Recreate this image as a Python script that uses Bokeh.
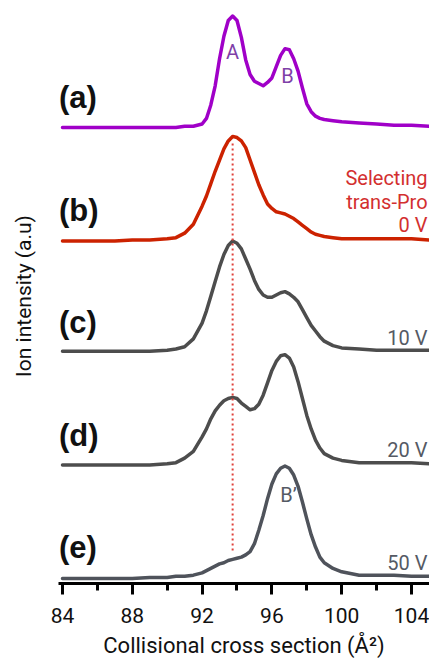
from bokeh.plotting import figure
from bokeh.models import Range1d, SingleIntervalTicker, FixedTicker, Label, LinearAxis
from bokeh.embed import file_html
from bokeh.resources import INLINE

# Collisional cross section grid (Å^2)
ccs = [84, 85, 86, 87, 88, 89, 90, 90.5, 91, 91.5,
       92, 92.25, 92.5, 92.75, 93, 93.25, 93.5, 93.75, 94, 94.25, 94.5, 94.75,
       95, 95.25, 95.5, 95.75, 96, 96.25, 96.5, 96.75, 97, 97.25, 97.5, 97.75,
       98, 98.25, 98.5, 98.75, 99,
       99.5, 100, 101, 102, 103, 104, 105]

# Normalised ion intensities (a.u.)
trace_a = [0.01, 0.01, 0.01, 0.01, 0.01, 0.01, 0.01, 0.01, 0.02, 0.02,
           0.04, 0.09, 0.21, 0.38, 0.62, 0.82, 0.96, 1.00, 0.96, 0.81, 0.61, 0.48,
           0.42, 0.40, 0.38, 0.41, 0.45, 0.55, 0.65, 0.71, 0.70, 0.62, 0.51, 0.36,
           0.22, 0.15, 0.11, 0.09, 0.08,
           0.07, 0.06, 0.05, 0.04, 0.03, 0.03, 0.02]
trace_b = [0.00, 0.00, 0.00, 0.00, 0.01, 0.01, 0.02, 0.03, 0.07, 0.15,
           0.31, 0.40, 0.51, 0.62, 0.72, 0.82, 0.89, 0.93, 0.92, 0.89, 0.83, 0.72,
           0.61, 0.50, 0.41, 0.33, 0.29, 0.26, 0.25, 0.24, 0.22, 0.20, 0.17, 0.14,
           0.11, 0.08, 0.06, 0.05, 0.04,
           0.03, 0.02, 0.02, 0.02, 0.02, 0.02, 0.01]
trace_c = [0.02, 0.02, 0.02, 0.02, 0.02, 0.02, 0.03, 0.04, 0.06, 0.13,
           0.27, 0.38, 0.51, 0.64, 0.77, 0.88, 0.96, 1.00, 0.98, 0.93, 0.84, 0.75,
           0.65, 0.57, 0.52, 0.50, 0.50, 0.52, 0.54, 0.55, 0.53, 0.50, 0.46, 0.39,
           0.32, 0.25, 0.20, 0.15, 0.11,
           0.07, 0.05, 0.04, 0.03, 0.03, 0.03, 0.03]
trace_d = [0.01, 0.01, 0.01, 0.01, 0.01, 0.01, 0.02, 0.03, 0.07, 0.13,
           0.26, 0.33, 0.42, 0.49, 0.54, 0.58, 0.60, 0.61, 0.60, 0.56, 0.53, 0.50,
           0.51, 0.55, 0.63, 0.74, 0.85, 0.93, 0.98, 0.99, 0.96, 0.88, 0.75, 0.60,
           0.45, 0.33, 0.23, 0.16, 0.11,
           0.07, 0.05, 0.03, 0.03, 0.03, 0.03, 0.02]
trace_e = [0.00, 0.00, 0.00, 0.00, 0.00, 0.01, 0.01, 0.02, 0.02, 0.03,
           0.05, 0.07, 0.09, 0.11, 0.13, 0.14, 0.16, 0.17, 0.18, 0.19, 0.21, 0.24,
           0.31, 0.43, 0.56, 0.71, 0.84, 0.93, 0.98, 1.00, 0.98, 0.92, 0.82, 0.68,
           0.53, 0.39, 0.28, 0.19, 0.14,
           0.09, 0.06, 0.03, 0.03, 0.03, 0.02, 0.02]

traces = [trace_a, trace_b, trace_c, trace_d, trace_e]
offsets = [4, 3, 2, 1, 0]
panel_labels = ["(a)", "(b)", "(c)", "(d)", "(e)"]
voltage_labels = ["", "0 V", "10 V", "20 V", "50 V"]
trace_colors = ["#a000c8", "#cc2200", "#4d4d4d", "#4d4d4d", "#4f535b"]
volt_colors = ["#555a64", "#d32f2f", "#555a64", "#555a64", "#555a64"]
x_ticks_interval = 4

FONT = "Roboto"

p = figure(width=429, height=662, output_backend="svg", toolbar_location=None,
           x_range=Range1d(83.771, 105.032), y_range=Range1d(-0.044, 5.067),
           y_axis_location=None, min_border_left=58, min_border_right=0,
           min_border_top=8, min_border_bottom=79)
p.outline_line_color = None
p.grid.visible = False

ax = p.xaxis[0]
ax.ticker = SingleIntervalTicker(interval=x_ticks_interval, num_minor_ticks=2)
ax.axis_label = "Collisional cross section (Å²)"
ax.axis_label_text_font = FONT
ax.axis_label_text_font_size = "22px"
ax.axis_label_text_font_style = "normal"
ax.axis_label_text_color = "#111111"
ax.axis_label_standoff = 7
ax.major_label_text_font = FONT
ax.major_label_text_font_size = "21px"
ax.major_label_text_color = "#111111"
ax.major_label_standoff = 13
ax.axis_line_width = 3
ax.axis_line_color = "black"
ax.major_tick_line_width = 3
ax.minor_tick_line_width = 3
ax.major_tick_out = 11
ax.major_tick_in = 0
ax.minor_tick_out = 7
ax.minor_tick_in = 0

# y-axis: title only
yax = LinearAxis(ticker=FixedTicker(ticks=[]), axis_line_color=None,
                 major_tick_line_color=None, minor_tick_line_color=None,
                 axis_label="Ion intensity (a.u)", axis_label_text_font=FONT,
                 axis_label_text_font_size="21px", axis_label_text_font_style="normal",
                 axis_label_text_color="#111111", axis_label_standoff=23)
p.add_layout(yax, "left")

for vals, off, col in zip(traces, offsets, trace_colors):
    p.line(ccs, [v + off for v in vals], line_color=col, line_width=3.5,
           line_join="round", line_cap="round")

# dotted reference line through the trans-Pro (b) maximum
ib = trace_b.index(max(trace_b))
x_ref = ccs[ib]
top = offsets[1] + trace_b[ib] - 0.06
bottom = offsets[4] + trace_e[ib] + 0.08
p.line([x_ref, x_ref], [bottom, top], line_color="#e0403a", line_width=2,
       line_dash="2 3")

# panel labels
for lab, off in zip(panel_labels, offsets):
    p.add_layout(Label(x=83.80, y=off + 0.275, text=lab, text_font="Liberation Sans",
                       text_font_style="bold", text_font_size="31px",
                       text_color="#111111", text_align="left",
                       text_baseline="middle"))

# voltage labels
for lab, off, col in zip(voltage_labels, offsets, volt_colors):
    if lab:
        p.add_layout(Label(x=104.92, y=off + 0.14, text=lab, text_font=FONT,
                           text_font_size="20px", text_color=col,
                           text_align="right", text_baseline="alphabetic"))
for lab, dy in (("Selecting", 0.56), ("trans-Pro", 0.35)):
    p.add_layout(Label(x=104.92, y=offsets[1] + dy, text=lab, text_font=FONT,
                       text_font_size="20px", text_color="#d32f2f",
                       text_align="right", text_baseline="alphabetic"))

# peak labels
ia = trace_a.index(max(trace_a))
p.add_layout(Label(x=ccs[ia], y=offsets[0] + 0.684, text="A", text_font=FONT,
                   text_font_size="20px", text_color="#7f3fa8",
                   text_align="center", text_baseline="middle"))
p.add_layout(Label(x=96.9, y=offsets[0] + 0.47, text="B", text_font=FONT,
                   text_font_size="20px", text_color="#7f3fa8",
                   text_align="center", text_baseline="middle"))
p.add_layout(Label(x=96.95, y=offsets[4] + 0.747, text="B’", text_font=FONT,
                   text_font_size="20px", text_color="#555a64",
                   text_align="center", text_baseline="middle"))

open("out.html", "w").write(file_html(p, INLINE))
